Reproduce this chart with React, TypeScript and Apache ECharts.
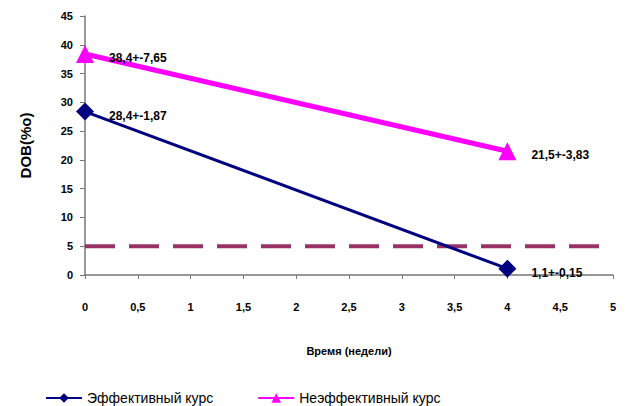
import React, { useEffect, useRef } from "react";
import * as echarts from "echarts";

const weeks = [0, 4];
const effective = [28.4, 1.1];
const ineffective = [38.4, 21.5];
const effectiveLabels = ["28,4+-1,87", "1,1+-0,15"];
const ineffectiveLabels = ["38,4+-7,65", "21,5+-3,83"];
const threshold = 5;
const xRange = [0, 5];

const fmt = (v: number) => String(v).replace(".", ",");

export default function App() {
  const ref = useRef<HTMLDivElement>(null);
  useEffect(() => {
    const chart = echarts.init(ref.current!, null, { renderer: "svg" });
    const labelStyle = {
      show: true,
      position: "right",
      fontFamily: "Liberation Sans, Arial, sans-serif",
      fontWeight: "bold",
      fontSize: 12,
      color: "#000",
    };
    chart.setOption({
      animation: false,
      backgroundColor: "#fff",
      grid: { left: 85, right: 19, top: 16, bottom: 131 },
      xAxis: {
        type: "value",
        min: 0,
        max: 5,
        interval: 0.5,
        name: "Время (недели)",
        nameLocation: "middle",
        nameGap: 70,
        nameTextStyle: { fontFamily: "Liberation Sans, sans-serif", fontWeight: "bold", fontSize: 11, color: "#000" },
        axisLine: { lineStyle: { color: "#777", width: 1.5 } },
        axisTick: { show: true, length: 4, lineStyle: { color: "#777" } },
        axisLabel: { formatter: (v: number) => fmt(v), margin: 26, fontFamily: "Liberation Sans, Arial, sans-serif", fontWeight: "bold", fontSize: 11, color: "#000" },
        splitLine: { show: false },
      },
      yAxis: {
        type: "value",
        min: 0,
        max: 45,
        interval: 5,
        name: "DOB(%о)",
        nameLocation: "middle",
        nameGap: 52,
        nameRotate: 90,
        nameTextStyle: { fontFamily: "Liberation Sans, Arial, sans-serif", fontWeight: "bold", fontSize: 15, color: "#000" },
        axisLine: { show: true, lineStyle: { color: "#777", width: 1.5 } },
        axisTick: { show: true, length: 5, lineStyle: { color: "#777" } },
        axisLabel: { margin: 12, fontFamily: "Liberation Sans, Arial, sans-serif", fontWeight: "bold", fontSize: 11, color: "#000" },
        splitLine: { show: false },
      },
      legend: {
        data: ["Эффективный курс", "Неэффективный курс"],
        left: 40,
        top: 386,
        itemGap: 44,
        itemWidth: 36,
        itemHeight: 12,
        textStyle: { fontFamily: "Liberation Sans, sans-serif", fontSize: 14, color: "#000" },
      },
      series: [
        {
          name: "threshold",
          type: "line",
          data: xRange.map((x) => [x, threshold]),
          symbol: "none",
          lineStyle: { color: "#993366", width: 4, type: [30, 14] },
          silent: true,
          z: 1,
        },
        {
          name: "Эффективный курс",
          type: "line",
          data: weeks.map((w, i) => [w, effective[i]]),
          symbol: "diamond",
          symbolSize: 18,
          color: "#000080",
          lineStyle: { color: "#000080", width: 3 },
          itemStyle: { color: "#000080" },
          label: { ...labelStyle, offset: [10, 4], formatter: (p: any) => effectiveLabels[p.dataIndex] },
          z: 3,
        },
        {
          name: "Неэффективный курс",
          type: "line",
          data: weeks.map((w, i) => [w, ineffective[i]]),
          symbol: "triangle",
          symbolSize: 18,
          color: "#FF00FF",
          lineStyle: { color: "#FF00FF", width: 5 },
          itemStyle: { color: "#FF00FF" },
          label: { ...labelStyle, offset: [10, 4], formatter: (p: any) => ineffectiveLabels[p.dataIndex] },
          z: 2,
        },
      ],
    });
    return () => chart.dispose();
  }, []);
  return <div ref={ref} style={{ width: 632, height: 406, position: "absolute", left: 0, top: 0 }} />;
}
